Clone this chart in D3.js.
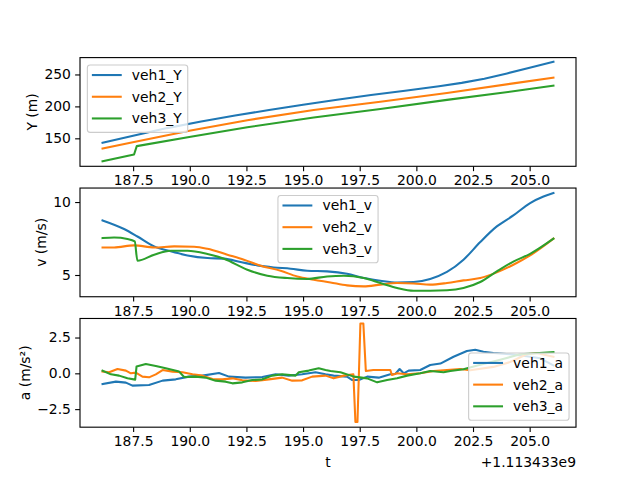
<!DOCTYPE html>
<html><head><meta charset="utf-8">
<script src="https://cdn.jsdelivr.net/npm/d3@7"></script>
<style>body{margin:0;background:#fff} text{font-family:"DejaVu Sans",sans-serif;fill:#000}</style>
</head><body>
<svg id="c" width="640" height="480"></svg>
<script>
// ---- data (t in seconds, offset +1.113433e9) ----
const offsetLabel = "+1.113433e9";
const xTicks = [187.5, 190, 192.5, 195, 197.5, 200, 202.5, 205];
const yTicksY = [150, 200, 250];
const yTicksV = [5, 10];
const yTicksA = [-2.5, 0, 2.5];
const labelsY = ["veh1_Y", "veh2_Y", "veh3_Y"];
const labelsV = ["veh1_v", "veh2_v", "veh3_v"];
const labelsA = ["veh1_a", "veh2_a", "veh3_a"];

const veh1_Y = [[186.15,143],[187.5,154],[189,166],[190.5,176.3],[192,185.6],[193.5,194.4],[195,202.6],[196.5,210.4],[198,217.8],[199.5,224.6],[201,231.6],[202,236.8],[203,243.4],[204,251.6],[205,260.6],[206.05,270]];
const veh2_Y = [[186.15,134],[187.54,144.2],[190.04,162.2],[192.54,178.4],[195.47,194.4],[198.41,207.4],[201.35,221],[204.28,236],[206.05,245]];
const veh3_Y = [[186.15,114],[187.54,124.7],[187.66,137.8],[190.04,152.6],[192.54,167.4],[195.47,182.6],[198.41,195.8],[201.35,210.2],[204.28,223.6],[206.05,232.6]];

const veh1_v = [[186.15,8.74],[187.10,8.15],[187.69,7.64],[188.43,6.96],[189.16,6.62],[189.90,6.34],[190.78,6.16],[191.51,6.12],[192.24,5.89],[192.98,5.66],[193.71,5.52],[194.45,5.43],[195.18,5.29],[196.06,5.25],[196.94,5.09],[197.68,4.79],[198.41,4.61],[199.15,4.49],[199.88,4.52],[200.61,4.73],[201.35,5.21],[202.08,6.05],[202.82,7.26],[203.55,8.33],[204.28,9.08],[205.02,9.93],[205.61,10.38],[206.05,10.62]];
const veh2_v = [[186.15,6.89],[186.66,6.89],[187.54,7.03],[188.43,6.89],[189.31,6.96],[190.19,6.94],[190.78,6.8],[191.66,6.39],[192.39,6.05],[193.13,5.64],[194.01,5.29],[194.74,4.9],[195.47,4.68],[196.21,4.49],[196.94,4.29],[197.68,4.22],[198.41,4.34],[199.15,4.45],[199.88,4.42],[200.61,4.34],[201.35,4.45],[202.08,4.63],[202.82,4.79],[203.55,5.18],[204.28,5.7],[205.02,6.34],[206.05,7.49]];
const veh3_v = [[186.15,7.53],[186.66,7.57],[187.25,7.47],[187.57,7.3],[187.69,5.98],[188.43,6.39],[189.16,6.66],[189.90,6.66],[190.78,6.44],[191.51,6.12],[192.54,5.36],[193.42,4.95],[194.30,4.79],[195.18,4.73],[196.06,4.9],[196.80,4.95],[197.68,4.79],[198.41,4.45],[199.15,4.11],[199.88,3.92],[200.61,3.92],[201.35,3.95],[202.08,4.11],[202.82,4.52],[203.55,5.25],[204.28,5.92],[205.02,6.45],[206.05,7.49]];

const veh1_a = [[186.15,-0.75],[186.74,-0.58],[187.18,-0.65],[187.47,-0.86],[188.20,-0.82],[188.80,-0.51],[189.38,-0.42],[189.97,-0.23],[190.56,-0.16],[191.29,0.02],[191.73,-0.23],[192.46,-0.3],[193.20,-0.26],[193.79,-0.07],[194.37,-0.16],[194.96,-0.07],[195.55,0.07],[195.99,-0.07],[196.35,-0.16],[196.94,-0.23],[197.17,-0.47],[197.46,-0.47],[197.83,-0.23],[198.34,-0.3],[198.85,-0.07],[199.07,-0.05],[199.26,0.3],[199.44,0.0],[199.66,0.19],[200.17,0.23],[200.61,0.58],[201.06,0.68],[201.64,1.16],[202.23,1.56],[202.60,1.65],[202.96,1.51],[203.40,1.42],[204.14,1.33],[204.87,1.19],[205.46,1.05],[206.05,0.55]];
const veh2_a = [[186.15,0.12],[186.44,0.07],[186.81,0.3],[187.18,0.19],[187.40,0.0],[187.62,0.05],[187.91,-0.23],[188.20,-0.28],[188.50,-0.07],[188.80,0.23],[189.24,0.12],[189.68,0.07],[190.12,-0.07],[190.56,-0.16],[191.00,-0.4],[191.44,-0.42],[191.88,-0.35],[192.32,-0.49],[192.91,-0.54],[193.49,-0.42],[194.08,-0.3],[194.52,-0.51],[194.96,-0.49],[195.40,-0.23],[195.99,-0.16],[196.35,-0.35],[196.80,-0.16],[197.22,-0.07],[197.31,-3.4],[197.40,-3.4],[197.53,3.48],[197.66,3.48],[197.77,0.16],[198.10,0.23],[198.85,0.23],[198.92,-0.12],[199.15,0.0],[199.59,-0.07],[200.17,0.0],[200.76,0.16],[201.35,0.23],[201.93,0.3],[202.38,0.22],[203.40,0.45],[204.14,0.79],[204.87,1.33],[205.30,1.42],[206.05,1.15]];
const veh3_a = [[186.15,0.19],[186.52,-0.07],[186.88,-0.16],[187.25,-0.35],[187.59,-0.44],[187.65,0.47],[188.06,0.65],[188.50,0.51],[188.94,0.35],[189.53,0.12],[189.75,-0.26],[190.26,-0.23],[190.70,-0.3],[191.14,-0.51],[191.58,-0.58],[191.88,-0.7],[192.32,-0.63],[192.76,-0.47],[193.20,-0.42],[193.64,-0.16],[194.08,-0.07],[194.67,-0.16],[194.81,0.07],[195.25,0.19],[195.69,0.35],[195.99,0.23],[196.21,0.16],[196.65,0.07],[197.24,-0.23],[197.83,-0.35],[198.27,-0.63],[198.71,-0.47],[199.15,-0.35],[199.59,-0.16],[200.17,0.0],[200.61,0.16],[201.20,0.07],[201.50,0.16],[202.08,0.28],[202.82,0.6],[203.70,0.95],[204.58,1.33],[206.05,1.49]];

const colors = ["#1f77b4", "#ff7f0e", "#2ca02c"];

// ---- layout ----
const svg = d3.select("#c");
const L = 80, R = 576;
const panelH = 108.7, gap = 21.74, top0 = 57.6;
const FS = 13.9;

const allT = [].concat(veh1_Y, veh3_Y).map(d => d[0]);
const tExt = d3.extent(allT);
const tPad = (tExt[1] - tExt[0]) * 0.05;
const x = d3.scaleLinear().domain([tExt[0] - tPad, tExt[1] + tPad]).range([L, R]);

const panels = [
  {series:[veh1_Y, veh2_Y, veh3_Y], labels:labelsY, domain:[106.2, 276.4], ticks:yTicksY, fmt:d3.format("d"), ylabel:"Y (m)", ylx:31.5, legend:"ul", curve:d3.curveLinear},
  {series:[veh1_v, veh2_v, veh3_v], labels:labelsV, domain:[3.51, 10.96], ticks:yTicksV, fmt:d3.format("d"), ylabel:"v (m/s)", ylx:41, legend:"uc", curve:d3.curveMonotoneX},
  {series:[veh1_a, veh2_a, veh3_a], labels:labelsA, domain:[-3.76, 3.83], ticks:yTicksA, fmt:d => d3.format(".1f")(d).replace("-", "\u2212"), ylabel:"a (m/s\u00b2)", ylx:24.5, legend:"lr", curve:d3.curveLinear}
];

panels.forEach((p, i) => {
  const T = top0 + i * (panelH + gap), B = T + panelH;
  const y = d3.scaleLinear().domain(p.domain).range([B, T]);
  const g = svg.append("g");
  g.append("rect").attr("x", L).attr("y", T).attr("width", R - L).attr("height", panelH).attr("fill", "#fff");
  const cid = "clip" + i;
  g.append("clipPath").attr("id", cid).append("rect").attr("x", L).attr("y", T).attr("width", R - L).attr("height", panelH);
  const line = d3.line().x(d => x(d[0])).y(d => y(d[1])).curve(p.curve);
  p.series.forEach((s, k) => {
    g.append("path").attr("d", line(s)).attr("fill", "none").attr("stroke", colors[k])
      .attr("stroke-width", 2.08).attr("stroke-linejoin", "round").attr("stroke-linecap", "square")
      .attr("clip-path", `url(#${cid})`);
  });
  // axes
  const xa = g.append("g").attr("transform", `translate(0,${B})`)
    .call(d3.axisBottom(x).tickValues(xTicks).tickFormat(d3.format(".1f")).tickSizeOuter(0).tickSize(4.86).tickPadding(4.2));
  const ya = g.append("g").attr("transform", `translate(${L},0)`)
    .call(d3.axisLeft(y).tickValues(p.ticks).tickFormat(p.fmt).tickSizeOuter(0).tickSize(4.86).tickPadding(4.2));
  [xa, ya].forEach(a => {
    a.select(".domain").remove();
    a.selectAll("line").attr("stroke", "#000").attr("stroke-width", 1.11);
    a.selectAll("text").attr("font-size", FS).attr("font-family", "DejaVu Sans").attr("fill", "#000");
  });
  g.append("rect").attr("x", L).attr("y", T).attr("width", R - L).attr("height", panelH)
    .attr("fill", "none").attr("stroke", "#000").attr("stroke-width", 1.11);
  // y label
  g.append("text").attr("transform", `translate(${p.ylx},${(T + B) / 2}) rotate(-90)`)
    .attr("text-anchor", "middle").attr("dominant-baseline", "central").attr("font-size", FS).text(p.ylabel);
  // legend
  const lg = g.append("g");
  const texts = p.labels.map(l => l);
  const tmp = lg.append("text").attr("font-size", FS).text(texts[0]);
  const tw = d3.max(texts, t => { tmp.text(t); return tmp.node().getComputedTextLength(); });
  tmp.remove();
  const pad = 0.4 * FS, hl = 2 * FS, htp = 0.8 * FS, rowH = 21.7;
  const W = pad + hl + htp + tw + pad + 0.5, H = 67.3;
  const off = 0.5 * FS;
  let lx, ly;
  if (p.legend === "ul") { lx = L + off + 0.4; ly = T + off + 0.5; }
  else if (p.legend === "uc") { lx = (L + R) / 2 - W / 2; ly = T + off + 0.5; }
  else { lx = R - off - W; ly = B - off - H; }
  lg.append("rect").attr("x", lx).attr("y", ly).attr("width", W).attr("height", H).attr("rx", 2.8)
    .attr("fill", "#fff").attr("fill-opacity", 0.8).attr("stroke", "#cccccc").attr("stroke-width", 1.11);
  texts.forEach((t, k) => {
    const cy = ly + 10 + k * rowH;
    lg.append("line").attr("x1", lx + pad).attr("x2", lx + pad + hl).attr("y1", cy).attr("y2", cy)
      .attr("stroke", colors[k]).attr("stroke-width", 2.08).attr("stroke-linecap", "square");
    lg.append("text").attr("x", lx + pad + hl + htp).attr("y", cy).attr("dominant-baseline", "central")
      .attr("font-size", FS).text(t);
  });
  if (i === 2) {
    g.append("text").attr("x", (L + R) / 2).attr("y", 461.5).attr("text-anchor", "middle")
      .attr("dominant-baseline", "central").attr("font-size", FS).text("t");
    g.append("text").attr("x", R).attr("y", 461.5).attr("text-anchor", "end")
      .attr("dominant-baseline", "central").attr("font-size", FS).text(offsetLabel);
  }
});
</script>
</body></html>
